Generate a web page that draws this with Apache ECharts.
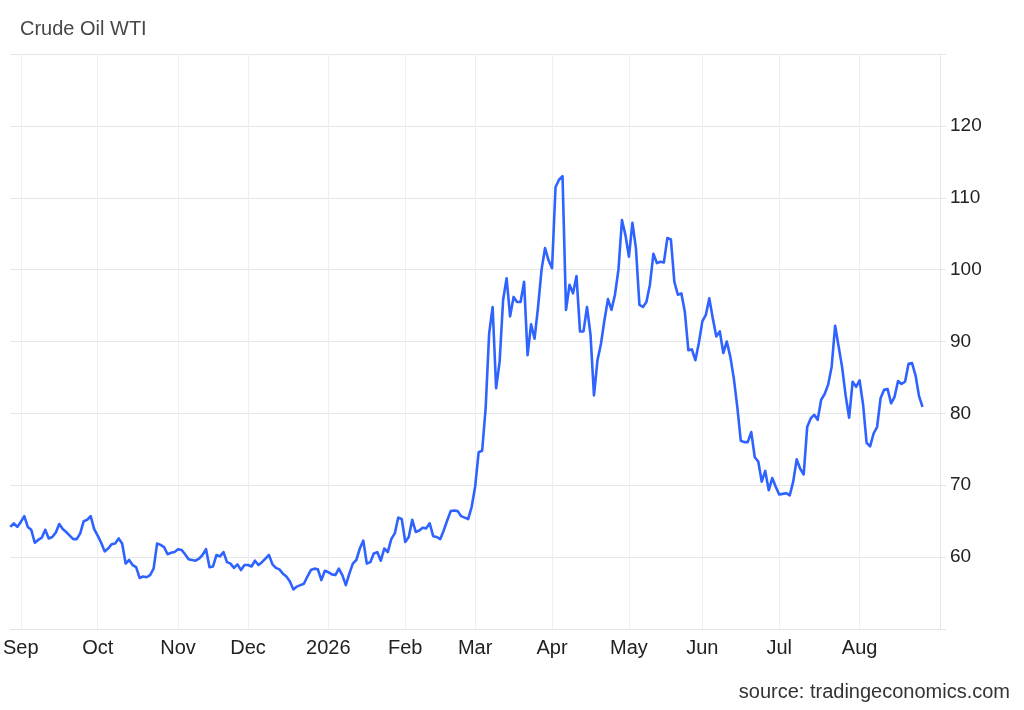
<!DOCTYPE html>
<html><head><meta charset="utf-8">
<script src="https://cdn.jsdelivr.net/npm/echarts@6/dist/echarts.min.js"></script>
<style>html,body{margin:0;padding:0;background:#fff}#c{width:1024px;height:710px}</style>
</head><body><div id="c"></div>
<script>
// Trading-day category range (weekdays)
const startDate = '2025-08-27';
const endDate = '2026-09-03';

// Month tick labels: [year-month, label]
const monthTicks = [
  ['2025-09','Sep'],['2025-10','Oct'],['2025-11','Nov'],['2025-12','Dec'],
  ['2026-01','2026'],['2026-02','Feb'],['2026-03','Mar'],['2026-04','Apr'],
  ['2026-05','May'],['2026-06','Jun'],['2026-07','Jul'],['2026-08','Aug']
];

// Y tick labels shown
const yTicks = [60, 70, 80, 90, 100, 110, 120];

// WTI daily closes (USD/bbl)
const wtiValues = [
  64.2, 64.7, 64.2, 64.9, 65.7, 64.2, 63.8, 62.0, 62.4, 62.7,
  63.8, 62.6, 62.8, 63.4, 64.6, 63.9, 63.5, 63.0, 62.5, 62.5,
  63.3, 65.0, 65.2, 65.7, 63.9, 63.0, 62.0, 60.8, 61.2, 61.8,
  61.9, 62.6, 61.9, 59.1, 59.6, 58.9, 58.6, 57.1, 57.3, 57.2,
  57.5, 58.4, 61.9, 61.7, 61.4, 60.4, 60.6, 60.7, 61.1, 61.0,
  60.4, 59.7, 59.6, 59.5, 59.8, 60.3, 61.1, 58.6, 58.7, 60.3,
  60.1, 60.7, 59.3, 59.1, 58.5, 59.0, 58.2, 58.9, 58.9, 58.7,
  59.5, 58.9, 59.3, 59.8, 60.3, 59.0, 58.5, 58.3, 57.7, 57.3,
  56.6, 55.5, 55.9, 56.1, 56.3, 57.3, 58.2, 58.4, 58.3, 56.8,
  58.1, 57.9, 57.6, 57.5, 58.4, 57.5, 56.1, 57.7, 59.1, 59.6,
  61.2, 62.3, 59.1, 59.3, 60.5, 60.7, 59.5, 61.2, 60.7, 62.5,
  63.3, 65.5, 65.3, 62.1, 62.8, 65.2, 63.5, 63.7, 64.1, 64.0,
  64.7, 62.9, 62.8, 62.5, 63.7, 65.1, 66.4, 66.5, 66.4, 65.7,
  65.5, 65.3, 67.0, 69.8, 74.6, 74.8, 80.7, 91.1, 94.8, 83.5,
  87.2, 95.8, 98.8, 93.5, 96.2, 95.5, 95.5, 98.3, 88.1, 92.4,
  90.4, 94.8, 100.0, 103.0, 101.3, 100.2, 111.5, 112.5, 113.0, 94.4,
  97.9, 96.7, 99.1, 91.4, 91.4, 94.8, 91.0, 82.5, 87.4, 89.7,
  93.0, 95.9, 94.4, 96.5, 100.0, 106.9, 104.8, 101.8, 106.5, 103.0,
  95.1, 94.8, 95.5, 97.9, 102.2, 100.9, 101.1, 101.0, 104.4, 104.2,
  98.3, 96.5, 96.7, 94.1, 88.8, 88.9, 87.4, 89.8, 92.8, 93.7,
  96.0, 93.2, 90.7, 91.4, 88.4, 90.0, 87.9, 84.9, 80.9, 76.2,
  76.0, 76.0, 77.4, 73.9, 73.3, 70.5, 72.0, 69.3, 71.0, 69.8,
  68.7, 68.8, 68.9, 68.6, 70.5, 73.6, 72.3, 71.5, 78.1, 79.3,
  79.8, 79.1, 81.9, 82.7, 84.0, 86.5, 92.2, 89.3, 86.4, 82.5,
  79.4, 84.4, 83.7, 84.6, 81.2, 75.9, 75.4, 77.2, 78.1, 82.1,
  83.3, 83.4, 81.4, 82.3, 84.5, 84.1, 84.4, 86.9, 87.0, 85.3,
  82.4, 80.9
];

// Build weekday category list
const dates = [];
(function () {
  const d = new Date(startDate + 'T00:00:00Z');
  const end = new Date(endDate + 'T00:00:00Z');
  while (d <= end) {
    const wd = d.getUTCDay();
    if (wd !== 0 && wd !== 6) dates.push(d.toISOString().slice(0, 10));
    d.setUTCDate(d.getUTCDate() + 1);
  }
})();

// Index of first trading day of each labelled month
const tickLabelAt = {};
monthTicks.forEach(([ym, lab]) => {
  const i = dates.findIndex(s => s.startsWith(ym));
  if (i >= 0) tickLabelAt[i] = lab;
});
const isTick = (i) => Object.prototype.hasOwnProperty.call(tickLabelAt, i);

const FONT = "'Liberation Sans', Arial, Helvetica, sans-serif";
const chart = echarts.init(document.getElementById('c'), null, { renderer: 'canvas' });
chart.setOption({
  animation: false,
  backgroundColor: '#ffffff',
  textStyle: { fontFamily: FONT },
  title: {
    text: 'Crude Oil WTI',
    left: 15, top: 14,
    textStyle: { fontSize: 20, fontWeight: 'normal', color: '#474747', fontFamily: FONT }
  },
  graphic: [{
    type: 'text',
    right: 14, top: 682,
    style: { text: 'source: tradingeconomics.com', font: '20px ' + FONT, fill: '#333333' }
  }],
  grid: { left: 10, right: 84, top: 54, bottom: 81, containLabel: false },
  xAxis: {
    type: 'category',
    data: dates,
    boundaryGap: false,
    axisLine: { show: true, lineStyle: { color: '#e2e2e2', width: 1 } },
    axisTick: { show: false },
    axisLabel: {
      interval: (i) => isTick(i),
      formatter: (v, i) => tickLabelAt[i] || '',
      fontSize: 20, color: '#222222', margin: 9, fontFamily: FONT
    },
    splitLine: {
      show: true,
      interval: (i) => isTick(i),
      lineStyle: { color: '#ebf0f6', width: 1 }
    }
  },
  yAxis: {
    type: 'value',
    position: 'right',
    min: 50, max: 130, interval: 10,
    axisLine: { show: true, lineStyle: { color: '#e6e6e6', width: 1 } },
    axisTick: { show: true, length: 6, lineStyle: { color: '#e6e6e6' } },
    axisLabel: {
      formatter: (v) => (yTicks.includes(v) ? String(v) : ''),
      fontSize: 19, color: '#222222', margin: 10, fontFamily: FONT
    },
    splitLine: { show: true, lineStyle: { color: '#e6e6e6', width: 1 } }
  },
  series: [{
    type: 'line',
    data: wtiValues,
    showSymbol: false,
    symbol: 'none',
    smooth: false,
    lineStyle: { color: '#2f63ff', width: 2.6, join: 'round' },
    itemStyle: { color: '#2f63ff' }
  }]
});
</script>
</body></html>
